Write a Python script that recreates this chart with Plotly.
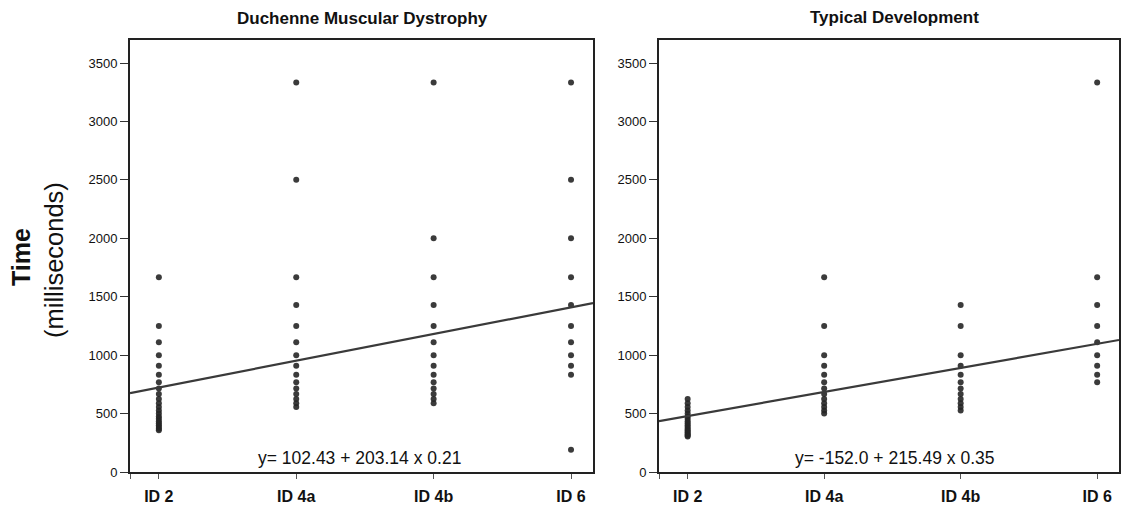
import plotly.graph_objects as go

W, H = 1121, 509

# ---------------- data ----------------
categories = ["ID 2", "ID 4a", "ID 4b", "ID 6"]
cat_pos = [1, 2, 3, 4]

dmd_id2 = [1667, 1250, 1111, 1000, 909, 833, 769, 714, 667, 625, 588, 556, 526,
           500, 476, 455, 435, 417, 400, 385, 370, 357]
dmd_id4a = [3333, 2500, 1667, 1429, 1250, 1111, 1000, 909, 833, 769, 714, 667,
            625, 588, 556]
dmd_id4b = [3333, 2000, 1667, 1429, 1250, 1111, 1000, 909, 833, 769, 714, 667,
            625, 588]
dmd_id6 = [3333, 2500, 2000, 1667, 1429, 1250, 1111, 1000, 909, 833, 190]

td_id2 = [625, 588, 556, 526, 500, 476, 455, 435, 417, 400, 385, 370, 357, 345,
          333, 323, 313, 303]
td_id4a = [1667, 1250, 1000, 909, 833, 769, 714, 667, 625, 588, 556, 526, 500]
td_id4b = [1429, 1250, 1000, 909, 833, 769, 714, 667, 625, 588, 556, 526]
td_id6 = [3333, 1667, 1429, 1250, 1111, 1000, 909, 833, 769]

# fitted line (intercept, slope) as drawn in each panel
dmd_fit = (495, 228.5)
td_fit = (273, 206)

dmd_equation = "y= 102.43 + 203.14 x 0.21"
td_equation = "y= -152.0 + 215.49 x 0.35"

y_ticks = [0, 500, 1000, 1500, 2000, 2500, 3000, 3500]

panel_titles = ["Duchenne Muscular Dystrophy", "Typical Development"]

# ---------------- styling ----------------
FONT = "Liberation Sans, Arial, Helvetica, sans-serif"
DOT = "#262626"
XR = [0.79, 4.16]
YR = [0, 3697]


def px_x(p):
    return p / W


def px_y(p):
    return 1 - p / H


fig = go.Figure()

panels = [
    ([dmd_id2, dmd_id4a, dmd_id4b, dmd_id6], dmd_fit, "x", "y"),
    ([td_id2, td_id4a, td_id4b, td_id6], td_fit, "x2", "y2"),
]

for cols, fit, xa, ya in panels:
    xs, ys = [], []
    for pos, vals in zip(cat_pos, cols):
        xs += [pos] * len(vals)
        ys += vals
    fig.add_trace(go.Scatter(
        x=xs, y=ys, mode="markers", xaxis=xa, yaxis=ya,
        marker=dict(size=6, color=DOT, opacity=0.9, line=dict(width=0)),
        showlegend=False, hoverinfo="skip"))
    a, b = fit
    fig.add_trace(go.Scatter(
        x=[XR[0], XR[1]], y=[a + b * XR[0], a + b * XR[1]], mode="lines",
        xaxis=xa, yaxis=ya, line=dict(color="#3a3a3a", width=2.2),
        showlegend=False, hoverinfo="skip", cliponaxis=True))

common_x = dict(
    range=XR, tickmode="array",
    tickvals=[XR[0]] + cat_pos, ticktext=[""] + categories,
    ticks="outside", ticklen=5, tickwidth=1, tickcolor="#555",
    showline=True, linecolor="#222", linewidth=2, mirror=True,
    showgrid=False, zeroline=False, fixedrange=True, automargin=False,
    tickfont=dict(family=FONT, size=16, color="#111", weight="bold"),
    ticklabelstandoff=4,
)
common_y = dict(
    range=YR, tickmode="array", tickvals=y_ticks,
    ticks="outside", ticklen=8, tickwidth=1, tickcolor="#333",
    showline=True, linecolor="#222", linewidth=2, mirror=True,
    showgrid=False, zeroline=False, fixedrange=True, automargin=False,
    tickfont=dict(family=FONT, size=13, color="#111"),
)

left_dom = [px_x(130), px_x(593)]
right_dom = [px_x(659), px_x(1119)]
ydom = [px_y(472), px_y(40)]

fig.update_layout(
    width=W, height=H,
    margin=dict(l=0, r=0, t=0, b=0, autoexpand=False),
    paper_bgcolor="white", plot_bgcolor="white",
    xaxis=dict(domain=left_dom, anchor="y", **common_x),
    yaxis=dict(domain=ydom, anchor="x", **common_y),
    xaxis2=dict(domain=right_dom, anchor="y2", **common_x),
    yaxis2=dict(domain=ydom, anchor="x2", **common_y),
)


def label(text, x, y, size, bold=False, angle=0):
    f = dict(family=FONT, size=size, color="#111")
    if bold:
        f["weight"] = "bold"
    return dict(text=text, x=px_x(x), y=px_y(y), xref="paper", yref="paper",
                showarrow=False, xanchor="center", yanchor="middle",
                textangle=angle, font=f)


ann = [
    label(panel_titles[0], 362, 18, 17, bold=True),
    label(panel_titles[1], 894, 17, 17, bold=True),
    label(dmd_equation, 359, 458, 17.5),
    label(td_equation, 894, 458, 17.5),
    label("Time", 21, 257, 25, bold=True, angle=-90),
    label("(milliseconds)", 54, 260, 25.5, angle=-90),
]
fig.update_layout(annotations=ann)

fig.write_html(
    "out.html",
    config={"displayModeBar": False},
    post_script="document.body.style.margin='0';document.body.style.overflow='hidden';",
)
